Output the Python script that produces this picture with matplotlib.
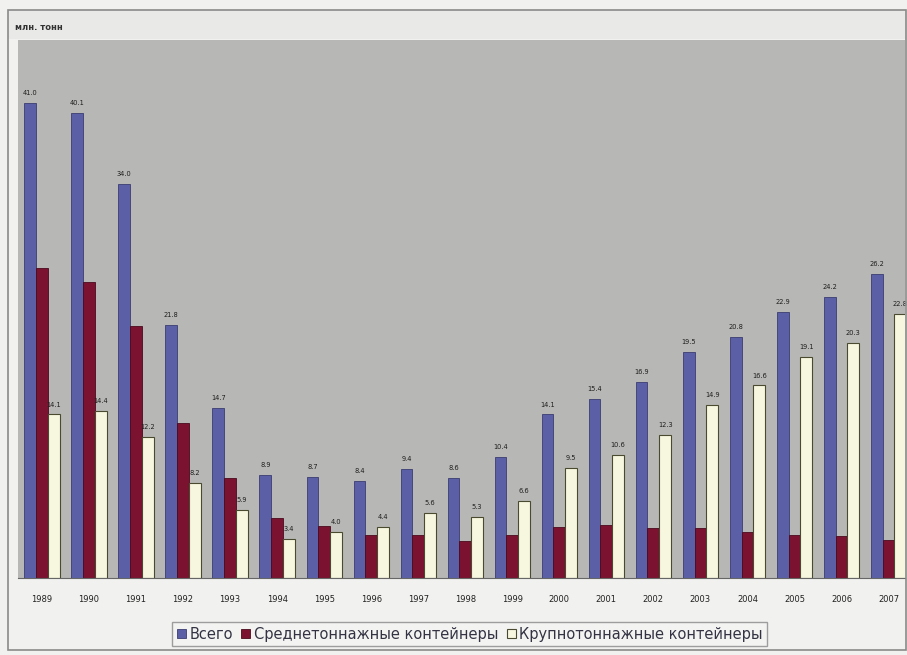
import matplotlib.pyplot as plt
import matplotlib.patches as mpatches
import numpy as np

# Container shipments, million tonnes
years = ["1989", "1990", "1991", "1992", "1993", "1994", "1995", "1996", "1997", "1998",
         "1999", "2000", "2001", "2002", "2003", "2004", "2005", "2006", "2007"]
total = [41.0, 40.1, 34.0, 21.8, 14.7, 8.9, 8.7, 8.4, 9.4, 8.6,
         10.4, 14.1, 15.4, 16.9, 19.5, 20.8, 22.9, 24.2, 26.2]
medium = [26.7, 25.5, 21.7, 13.4, 8.6, 5.2, 4.5, 3.7, 3.7, 3.2,
          3.7, 4.4, 4.6, 4.3, 4.3, 4.0, 3.7, 3.6, 3.3]
large = [14.1, 14.4, 12.2, 8.2, 5.9, 3.4, 4.0, 4.4, 5.6, 5.3,
         6.6, 9.5, 10.6, 12.3, 14.9, 16.6, 19.1, 20.3, 22.8]
series_names = ["Всего", "Среднетоннажные контейнеры", "Крупнотоннажные контейнеры"]

c_total = "#5b60a6"
c_medium = "#7a1230"
c_large = "#f7f6df"

fig = plt.figure(figsize=(9.07, 6.55), dpi=100, facecolor="#f1f1ef")

# header strip and outer frame
fig.patches.append(mpatches.Rectangle((0.009, 0.94), 0.99, 0.045, transform=fig.transFigure,
                                      facecolor="#e9e9e7", edgecolor="none", zorder=0))
fig.patches.append(mpatches.Rectangle((0.009, 0.008), 0.99, 0.977, transform=fig.transFigure,
                                      facecolor="none", edgecolor="#8a8a8a", linewidth=1.2, zorder=5))
fig.text(0.017, 0.958, "млн. тонн", fontsize=6, fontweight="bold", color="#333333", va="center")

ax = fig.add_axes([0.0198, 0.1176, 0.978, 0.8214])
ax.set_facecolor("#b7b7b5")

x = np.arange(len(years))
w = 0.25
b1 = ax.bar(x - w, total, w, color=c_total, edgecolor="#3a3d70", linewidth=0.6, label=series_names[0])
b2 = ax.bar(x, medium, w, color=c_medium, edgecolor="#4a0a1c", linewidth=0.6, label=series_names[1])
b3 = ax.bar(x + w, large, w, color=c_large, edgecolor="#4a4a30", linewidth=0.8, label=series_names[2])

for rects, vals in ((b1, total), (b3, large)):
    for r, v in zip(rects, vals):
        ax.text(r.get_x() + r.get_width() / 2, v + 0.6, f"{v:.1f}", ha="center", va="bottom",
                fontsize=4.8, color="#1e1e1e")

ax.set_xlim(-0.51, 18.35)
ax.set_ylim(0, 46.4)
ax.set_yticks([])
ax.set_xticks(x)
ax.set_xticklabels(years, fontsize=6, color="#222222")
ax.tick_params(axis="x", length=0, pad=12)
for s in ("top", "right", "left"):
    ax.spines[s].set_visible(False)
ax.spines["bottom"].set_color("#666666")

leg = fig.legend(handles=[b1, b2, b3], labels=series_names, loc="center",
                 bbox_to_anchor=(0.518, 0.032), ncol=3, fontsize=10.5, frameon=True,
                 fancybox=False, edgecolor="#888888", handlelength=0.6, handleheight=0.6,
                 handletextpad=0.25, columnspacing=0.6, borderpad=0.3)
leg.get_frame().set_facecolor("#f4f4f2")
for t in leg.get_texts():
    t.set_color("#333344")

fig.savefig("out.png", dpi=100, facecolor=fig.get_facecolor())
